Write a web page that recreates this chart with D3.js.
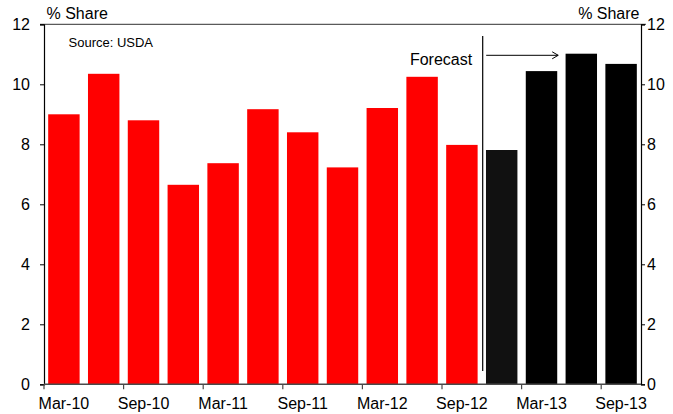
<!DOCTYPE html>
<html>
<head>
<meta charset="utf-8">
<script src="https://cdnjs.cloudflare.com/ajax/libs/d3/7.8.5/d3.min.js"></script>
<style>
  html, body { margin: 0; padding: 0; background: #fff; }
  svg { display: block; font-family: "Liberation Sans", Arial, sans-serif; }
</style>
</head>
<body>
<svg id="chart" width="673" height="414"></svg>
<script>
// Quarterly share (%), actuals then forecast
const quarters = ["Mar-10","Jun-10","Sep-10","Dec-10","Mar-11","Jun-11","Sep-11","Dec-11",
                  "Mar-12","Jun-12","Sep-12","Dec-12","Mar-13","Jun-13","Sep-13"];
const shareValues = [9.0, 10.35, 8.8, 6.65, 7.37, 9.17, 8.4, 7.23,
                     9.21, 10.25, 7.98, 7.81, 10.44, 11.02, 10.68];
const isForecast = [false,false,false,false,false,false,false,false,
                    false,false,false,true,true,true,true];
const barColors = ["#ff0000","#ff0000","#ff0000","#ff0000","#ff0000","#ff0000","#ff0000","#ff0000",
                   "#ff0000","#ff0000","#ff0000","#111111","#000000","#000000","#000000"];
const xTickLabels = ["Mar-10","Sep-10","Mar-11","Sep-11","Mar-12","Sep-12","Mar-13","Sep-13"];
const yTicks = [0, 2, 4, 6, 8, 10, 12];

const svg = d3.select("#chart");
const plotLeft = 44, plotRight = 641, plotTop = 24.3, plotBottom = 384.3;
const fontFamily = "Liberation Sans, Arial, sans-serif";

const x = d3.scaleBand().domain(quarters).range([plotLeft, plotRight])
  .paddingInner(0.21).paddingOuter(0.105);
const y = d3.scaleLinear().domain([0, 12]).range([plotBottom, plotTop]);

// bars
svg.append("g").selectAll("rect")
  .data(quarters.map((q, i) => ({ q, v: shareValues[i], c: barColors[i] })))
  .join("rect")
  .attr("x", d => x(d.q))
  .attr("y", d => y(d.v))
  .attr("width", x.bandwidth())
  .attr("height", d => y(0) - y(d.v))
  .attr("fill", d => d.c);

// top frame line
svg.append("line")
  .attr("x1", plotLeft - 4).attr("x2", plotRight + 5)
  .attr("y1", plotTop).attr("y2", plotTop)
  .attr("stroke", "#5a5a5a").attr("stroke-width", 1.2);

// left axis
const yLeft = svg.append("g").attr("transform", `translate(${plotLeft},0)`)
  .call(d3.axisLeft(y).tickValues(yTicks).tickSize(4).tickPadding(10).tickFormat(d3.format("d")));
yLeft.select(".domain").attr("stroke", "#000").attr("stroke-width", 1.2);
yLeft.selectAll(".tick line").attr("stroke", "#000");
yLeft.selectAll(".tick text").attr("font-size", 16).attr("fill", "#000")
  .attr("font-family", fontFamily);

// right axis
const yRight = svg.append("g").attr("transform", `translate(${plotRight},0)`)
  .call(d3.axisRight(y).tickValues(yTicks).tickSize(4).tickPadding(2).tickFormat(d3.format("d")));
yRight.select(".domain").attr("stroke", "#000").attr("stroke-width", 1.2);
yRight.selectAll(".tick line").attr("stroke", "#000");
yRight.selectAll(".tick text").attr("font-size", 16).attr("fill", "#000")
  .attr("font-family", fontFamily);

// bottom axis: labels centred on Mar/Sep bars, ticks at half-year boundaries
const xAxis = svg.append("g").attr("transform", `translate(0,${plotBottom})`)
  .call(d3.axisBottom(x).tickValues(xTickLabels).tickSize(0).tickPadding(13.5));
xAxis.select(".domain").remove();
xAxis.selectAll(".tick text").attr("font-size", 16).attr("fill", "#000")
  .attr("font-family", fontFamily);

svg.append("line")
  .attr("x1", plotLeft).attr("x2", plotRight)
  .attr("y1", plotBottom).attr("y2", plotBottom)
  .attr("stroke", "#4a4a4a").attr("stroke-width", 1.4);

const boundary = q => x(q) - x.paddingOuter() * x.step();
svg.append("g").selectAll("line")
  .data(xTickLabels)
  .join("line")
  .attr("x1", d => boundary(d)).attr("x2", d => boundary(d))
  .attr("y1", plotBottom).attr("y2", plotBottom + 5)
  .attr("stroke", "#4a4a4a").attr("stroke-width", 1.2);

// axis titles
svg.append("text").attr("x", 46.5).attr("y", 18.5)
  .attr("font-size", 16).text("% Share");
svg.append("text").attr("x", 639.5).attr("y", 18.5)
  .attr("font-size", 16).attr("text-anchor", "end").text("% Share");

// source note
svg.append("text").attr("x", 68.5).attr("y", 47)
  .attr("font-size", 13).text("Source: USDA");

// forecast divider and arrow
const firstForecast = quarters[isForecast.indexOf(true)];
const divX = boundary(firstForecast) + 0.9;
svg.append("line")
  .attr("x1", divX).attr("x2", divX)
  .attr("y1", 36).attr("y2", 371)
  .attr("stroke", "#000").attr("stroke-width", 1.2);
svg.append("text").attr("x", divX - 10.5).attr("y", 64.5)
  .attr("font-size", 16).attr("text-anchor", "end").text("Forecast");

const arrowY = 55.3, ax1 = divX + 3.5, ax2 = divX + 75.5;
svg.append("line")
  .attr("x1", ax1).attr("x2", ax2).attr("y1", arrowY).attr("y2", arrowY)
  .attr("stroke", "#000").attr("stroke-width", 1);
svg.append("path")
  .attr("d", `M${ax2 - 6},${arrowY - 3.5} L${ax2},${arrowY} L${ax2 - 6},${arrowY + 3.5}`)
  .attr("fill", "none").attr("stroke", "#000").attr("stroke-width", 1);
</script>
</body>
</html>
